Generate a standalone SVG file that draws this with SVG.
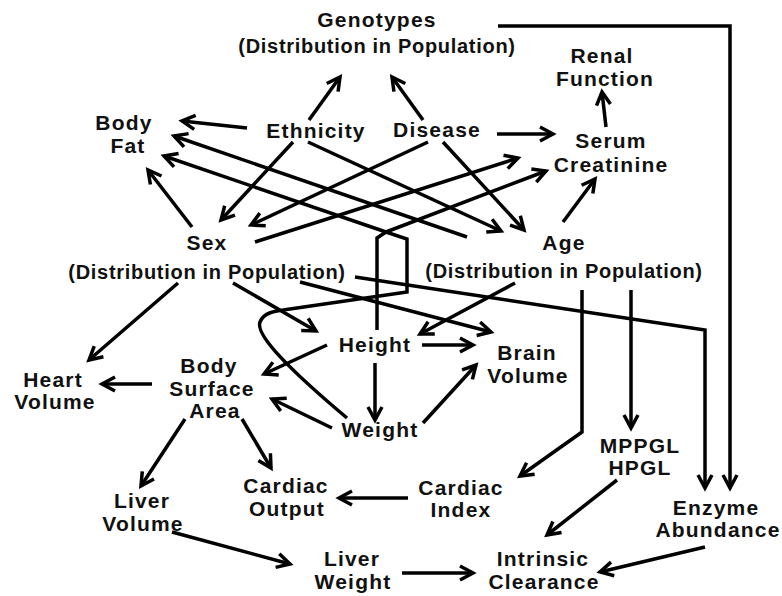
<svg xmlns="http://www.w3.org/2000/svg" width="782" height="596" viewBox="0 0 782 596">
<style>
text{font-family:"Liberation Sans",Arial,sans-serif;font-weight:bold;font-size:21px;letter-spacing:1.2px;fill:#111;text-anchor:middle}
text.p{font-size:20px;letter-spacing:0.7px}
#connectors path{fill:none;stroke:#000;stroke-width:3.5;stroke-linejoin:miter}
.a{marker-end:url(#ah)}
</style>
<defs>
<marker id="ah" markerUnits="userSpaceOnUse" markerWidth="30" markerHeight="30" viewBox="-15 -15 30 30" refX="0" refY="0" orient="auto" overflow="visible">
<path d="M-13,-7 L0,0 L-13,7" fill="none" stroke="#000" stroke-width="3.5"/>
</marker>
</defs>
<rect width="782" height="596" fill="#fff"/>
<g id="connectors">
<path class="a" d="M309,120 L340,77"/>
<path class="a" d="M423,120 L392,77"/>
<path class="a" d="M247,128 L182,121"/>
<path class="a" d="M497,134 L553,134"/>
<path class="a" d="M606,127 L602,92"/>
<path class="a" d="M563,222 L595,179"/>
<path class="a" d="M192,227 L148,170"/>
<path class="a" d="M293,142 L221,220"/>
<path class="a" d="M428,142 L251,225"/>
<path class="a" d="M255,242 L518,158"/>
<path class="a" d="M467,237 L174,136"/>
<path class="a" d="M308,142 L501,231"/>
<path class="a" d="M443,142 L524,230"/>
<path class="a" d="M386,232 L164,156"/>
<path class="a" d="M386,232 L546,171"/>
<path d="M377,330 L377,238 L386,232 L407,239 L407,292 L290,309 C275,311 264,312 260,322 C255,335 290,370 347,418"/>
<path class="a" d="M355,277 L705,330 L705,488"/>
<path class="a" d="M300,282 L491,332"/>
<path class="a" d="M233,283 L316,331"/>
<path class="a" d="M515,283 L420,334"/>
<path class="a" d="M422,345 L473,345"/>
<path class="a" d="M375,363 L375,420"/>
<path class="a" d="M327,345 L264,374"/>
<path class="a" d="M332,428 L272,399"/>
<path class="a" d="M423,423 L476,365"/>
<path class="a" d="M498,26 L730,26 L730,488"/>
<path class="a" d="M631,290 L631,428"/>
<path class="a" d="M582,290 L582,432 L520,476"/>
<path class="a" d="M152,384 L102,384"/>
<path class="a" d="M178,283 L89,360"/>
<path class="a" d="M185,419 L141,486"/>
<path class="a" d="M242,419 L271,468"/>
<path class="a" d="M408,498 L339,498"/>
<path class="a" d="M172,532 L290,564"/>
<path class="a" d="M402,573 L473,573"/>
<path class="a" d="M617,480 L547,535"/>
<path class="a" d="M705,547 L600,572"/>
</g>
<g id="genotypes"><text x="377" y="27">Genotypes</text><text class="p" x="377" y="53">(Distribution in Population)</text></g>
<g id="renal-function"><text x="602" y="63">Renal</text><text x="605" y="86">Function</text></g>
<g id="body-fat"><text x="124" y="130">Body</text><text x="128" y="153">Fat</text></g>
<g id="ethnicity"><text x="316" y="138">Ethnicity</text></g>
<g id="disease"><text x="437" y="137">Disease</text></g>
<g id="serum-creatinine"><text x="611" y="148">Serum</text><text x="611" y="172">Creatinine</text></g>
<g id="sex"><text x="207" y="250">Sex</text><text class="p" x="207" y="279">(Distribution in Population)</text></g>
<g id="age"><text x="564" y="250">Age</text><text class="p" x="564" y="278">(Distribution in Population)</text></g>
<g id="height"><text x="375" y="352">Height</text></g>
<g id="brain-volume"><text x="527" y="360">Brain</text><text x="528" y="383">Volume</text></g>
<g id="heart-volume"><text x="53" y="387">Heart</text><text x="55" y="409">Volume</text></g>
<g id="body-surface-area"><text x="209" y="373">Body</text><text x="212" y="396">Surface</text><text x="215" y="418">Area</text></g>
<g id="weight"><text x="380" y="437">Weight</text></g>
<g id="mppgl-hpgl"><text x="640" y="453">MPPGL</text><text x="640" y="475">HPGL</text></g>
<g id="liver-volume"><text x="142" y="508">Liver</text><text x="143" y="531">Volume</text></g>
<g id="cardiac-output"><text x="286" y="493">Cardiac</text><text x="287" y="516">Output</text></g>
<g id="cardiac-index"><text x="461" y="495">Cardiac</text><text x="461" y="517">Index</text></g>
<g id="enzyme-abundance"><text x="716" y="515">Enzyme</text><text x="718" y="537">Abundance</text></g>
<g id="liver-weight"><text x="352" y="566">Liver</text><text x="353" y="589">Weight</text></g>
<g id="intrinsic-clearance"><text x="543" y="566">Intrinsic</text><text x="544" y="589">Clearance</text></g>
</svg>
